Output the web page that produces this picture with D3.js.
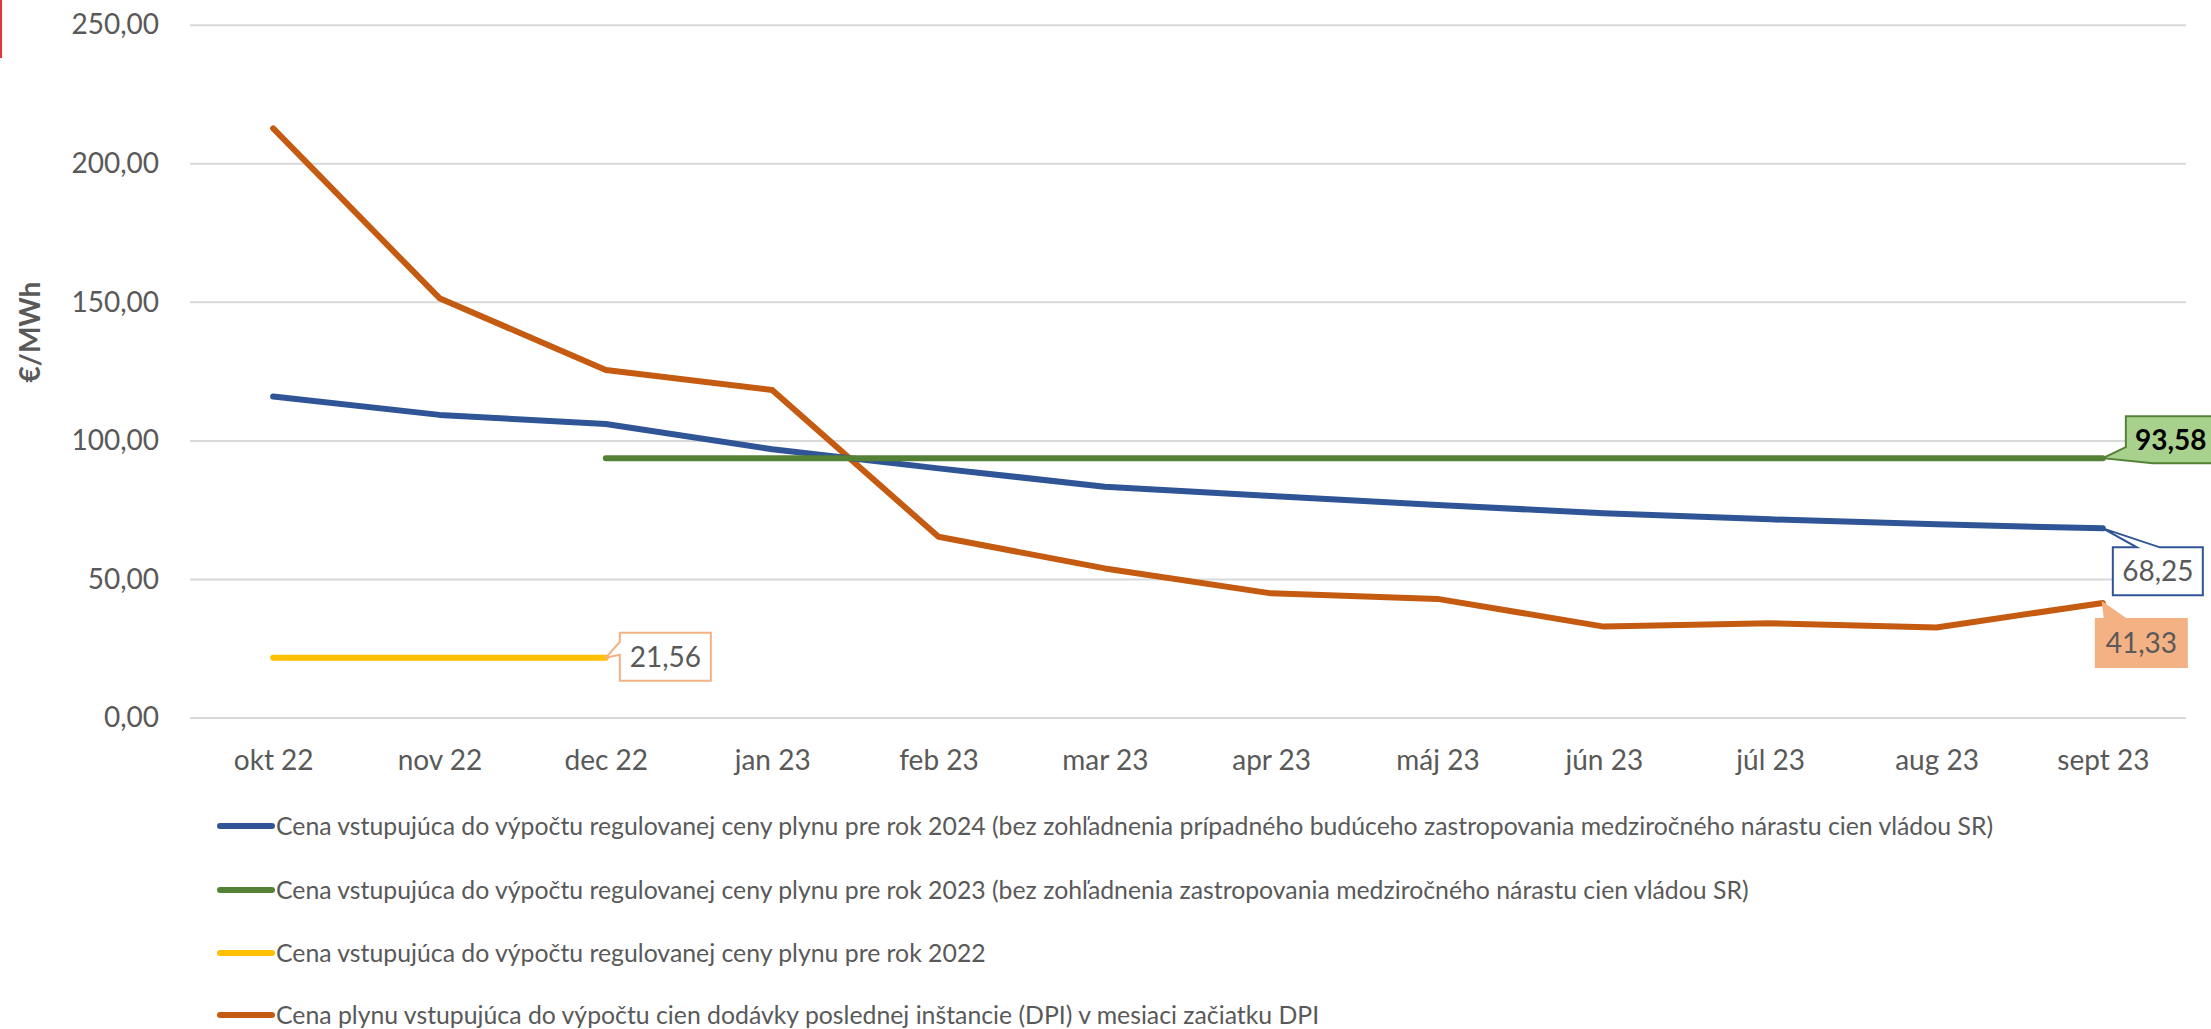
<!DOCTYPE html>
<html>
<head>
<meta charset="utf-8">
<script src="https://cdn.jsdelivr.net/npm/d3@7"></script>
<style>
	body { margin: 0; background: #fff; }
	svg { display: block; font-family: Lato, "Open Sans", sans-serif; }
</style>
</head>
<body>
<svg id="chart" width="2211" height="1029"></svg>
<script>

var months = ['okt 22', 'nov 22', 'dec 22', 'jan 23', 'feb 23', 'mar 23', 'apr 23', 'máj 23', 'jún 23', 'júl 23', 'aug 23', 'sept 23'];
var yTicks = [0, 50, 100, 150, 200, 250];

// regulovana cena 2024
var price2024 = [115.8, 109.2, 105.9, 96.8, 89.9, 83.3, 79.9, 76.7, 73.7, 71.5, 69.7, 68.25];
// regulovana cena 2023 (dec 22 - sept 23)
var price2023 = [null, null, 93.58, 93.58, 93.58, 93.58, 93.58, 93.58, 93.58, 93.58, 93.58, 93.58];
// regulovana cena 2022 (okt 22 - dec 22)
var price2022 = [21.56, 21.56, 21.56, null, null, null, null, null, null, null, null, null];
// DPI
var priceDpi = [212.6, 151.3, 125.4, 118.2, 65.2, 53.8, 44.8, 42.8, 32.8, 34.0, 32.5, 41.33];

var seriesNames = [
	'Cena vstupujúca do výpočtu regulovanej ceny plynu pre rok 2024 (bez zohľadnenia prípadného budúceho zastropovania medziročného nárastu cien vládou SR)',
	'Cena vstupujúca do výpočtu regulovanej ceny plynu pre rok 2023 (bez zohľadnenia zastropovania medziročného nárastu cien vládou SR)',
	'Cena vstupujúca do výpočtu regulovanej ceny plynu pre rok 2022',
	'Cena plynu vstupujúca do výpočtu cien dodávky poslednej inštancie (DPI) v mesiaci začiatku DPI'
];
var seriesColors = ['#2F5597', '#548235', '#FFC000', '#C55A11'];
var seriesValues = [price2024, price2023, price2022, priceDpi];

var textColor = '#595959';
var fontFamily = 'Lato, "Open Sans", sans-serif';
var plotLeft = 190, plotRight = 2186, plotTop = 24.7, plotBottom = 717.5;

var svg = d3.select('#chart');

var skFormat = d3.formatLocale({ decimal: ',', thousands: ' ', grouping: [3], currency: ['', ' €'] }).format('.2f');

var x = d3.scalePoint()
	.domain(months)
	.range([plotLeft, plotRight])
	.padding(0.5);

var y = d3.scaleLinear()
	.domain([0, 250])
	.range([plotBottom, plotTop]);

// red mark in the corner
svg.append('rect')
	.attr('x', 0).attr('y', 0)
	.attr('width', 2).attr('height', 58)
	.attr('fill', '#E8323C');

// gridlines + y labels
var yAxis = svg.append('g')
	.attr('transform', 'translate(' + plotLeft + ',0)')
	.call(d3.axisLeft(y).tickValues(yTicks).tickSize(-(plotRight - plotLeft)).tickPadding(31).tickFormat(skFormat))
	.attr('font-family', fontFamily);

yAxis.select('.domain').remove();
yAxis.selectAll('.tick line')
	.attr('stroke', '#D9D9D9')
	.attr('stroke-width', 2);
yAxis.selectAll('.tick text')
	.attr('fill', textColor)
	.attr('font-size', 28)
	.attr('dy', '0.33em');

// x labels
var xAxis = svg.append('g')
	.attr('transform', 'translate(0,' + plotBottom + ')')
	.call(d3.axisBottom(x).tickSize(0).tickPadding(33))
	.attr('font-family', fontFamily);

xAxis.select('.domain').remove();
xAxis.selectAll('.tick text')
	.attr('fill', textColor)
	.attr('font-size', 28);

// y title
svg.append('text')
	.attr('transform', 'translate(40,332) rotate(-90)')
	.attr('text-anchor', 'middle')
	.attr('font-size', 28)
	.attr('font-weight', 'bold')
	.attr('fill', textColor)
	.text('€/MWh');

var line = d3.line()
	.defined(function(d) { return d != null; })
	.x(function(d, i) { return x(months[i]); })
	.y(function(d) { return y(d); });

// yellow, orange, blue, green on top
var drawOrder = [2, 3, 0, 1];
drawOrder.forEach(function(k) {
	svg.append('path')
		.datum(seriesValues[k])
		.attr('d', line)
		.attr('fill', 'none')
		.attr('stroke', seriesColors[k])
		.attr('stroke-width', 6)
		.attr('stroke-linejoin', 'round')
		.attr('stroke-linecap', 'round');
});

// data callouts
function calloutPath(bx, by, bw, bh, ax, ay, side, p1, p2) {
	// side: 'top' -> p1,p2 are x on top edge; 'left' -> y on left edge; 'corner' -> p1 = y on left edge, p2 = x on bottom
	var pts;
	if (side == 'top') {
		pts = [[bx, by], [p1, by], [ax, ay], [p2, by], [bx + bw, by], [bx + bw, by + bh], [bx, by + bh]];
	} else if (side == 'left') {
		pts = [[bx, by], [bx + bw, by], [bx + bw, by + bh], [bx, by + bh], [bx, p2], [ax, ay], [bx, p1]];
	} else {
		pts = [[bx, by], [bx + bw, by], [bx + bw, by + bh], [p2, by + bh], [ax, ay], [bx, p1]];
	}
	return 'M' + pts.map(function(p) { return p.join(','); }).join('L') + 'Z';
}

var callouts = [
	{ series: 1, idx: 11, dx: 23, dy: -42, w: 90, h: 47, side: 'corner', a: 31, b: 27, fill: '#A9D18E', stroke: '#548235', color: '#000', bold: true },
	{ series: 0, idx: 11, dx: 10, dy: 19, w: 90, h: 48, side: 'top', a: 24, b: 47, fill: '#fff', stroke: '#2F5597', color: textColor, bold: false },
	{ series: 3, idx: 11, dx: -7, dy: 16, w: 91, h: 48, side: 'top', a: 9, b: 30, fill: '#F4B183', stroke: '#F4B183', color: textColor, bold: false },
	{ series: 2, idx: 2, dx: 14, dy: -25, w: 91, h: 48, side: 'left', a: 9, b: 22, fill: '#fff', stroke: '#F4B183', color: textColor, bold: false }
];

callouts.forEach(function(c) {
	var v = seriesValues[c.series][c.idx];
	var ax = x(months[c.idx]), ay = y(v);
	var bx = ax + c.dx, by = ay + c.dy;
	var p1, p2;
	if (c.side == 'top') { p1 = bx + c.a; p2 = bx + c.b; }
	else if (c.side == 'left') { p1 = by + c.a; p2 = by + c.b; }
	else { p1 = by + c.a; p2 = bx + c.b; }

	svg.append('path')
		.attr('d', calloutPath(bx, by, c.w, c.h, ax, ay, c.side, p1, p2))
		.attr('fill', c.fill)
		.attr('stroke', c.stroke)
		.attr('stroke-width', 2)
		.attr('stroke-linejoin', 'miter');

	svg.append('text')
		.attr('x', bx + c.w / 2)
		.attr('y', by + c.h / 2)
		.attr('dy', '0.36em')
		.attr('text-anchor', 'middle')
		.attr('font-size', 28)
		.attr('font-weight', c.bold ? 'bold' : 'normal')
		.attr('fill', c.color)
		.text(skFormat(v));
});

// legend
var legendY = [826, 890, 953, 1015];
var legend = svg.append('g');

seriesNames.forEach(function(name, i) {
	var g = legend.append('g').attr('transform', 'translate(0,' + legendY[i] + ')');
	g.append('line')
		.attr('x1', 220).attr('x2', 272)
		.attr('y1', 0).attr('y2', 0)
		.attr('stroke', seriesColors[i])
		.attr('stroke-width', 6)
		.attr('stroke-linecap', 'round');
	g.append('text')
		.attr('x', 276)
		.attr('y', 0)
		.attr('dy', '0.35em')
		.attr('font-size', 24.8)
		.attr('fill', textColor)
		.text(name);
});

</script>
</body>
</html>
